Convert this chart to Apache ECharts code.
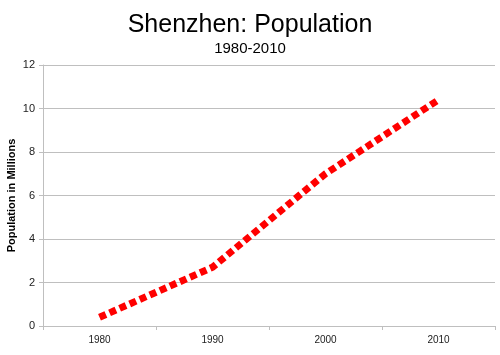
<!DOCTYPE html>
<html>
<head>
<meta charset="utf-8">
<script src="https://cdn.jsdelivr.net/npm/echarts@6/dist/echarts.min.js"></script>
<style>html,body{margin:0;padding:0;background:#fff}#c{width:500px;height:355px}</style>
</head>
<body>
<div id="c"></div>
<script>
var years = ['1980', '1990', '2000', '2010'];
var population = [0.4, 2.7, 7.0, 10.4];
var yTicks = {min: 0, max: 12, interval: 2};

var chart = echarts.init(document.getElementById('c'), null, {renderer: 'canvas'});
chart.setOption({
  animation: false,
  backgroundColor: '#ffffff',
  title: {
    text: 'Shenzhen: Population',
    subtext: '1980-2010',
    left: 'center',
    top: 8,
    itemGap: 3,
    textStyle: {fontFamily: 'Liberation Sans, Arial, sans-serif', fontSize: 25, fontWeight: 'normal', color: '#000'},
    subtextStyle: {fontFamily: 'Liberation Sans, Arial, sans-serif', fontSize: 15, color: '#000'}
  },
  grid: {left: 43, right: 5, top: 65, bottom: 29, outerBoundsMode: 'none', containLabel: false},
  xAxis: {
    type: 'category',
    data: years,
    boundaryGap: true,
    axisLine: {lineStyle: {color: '#bfbfbf', width: 1}},
    axisTick: {show: true, length: 4, lineStyle: {color: '#bfbfbf'}},
    axisLabel: {fontFamily: 'Liberation Sans, Arial, sans-serif', fontSize: 10, color: '#222', margin: 9}
  },
  yAxis: {
    type: 'value',
    min: yTicks.min,
    max: yTicks.max,
    interval: yTicks.interval,
    name: 'Population in Millions',
    nameLocation: 'middle',
    nameGap: 26,
    nameMoveOverlap: false,
    nameTextStyle: {fontFamily: 'Liberation Sans, Arial, sans-serif', fontSize: 11, fontWeight: 'bold', color: '#000'},
    axisLine: {show: true, lineStyle: {color: '#bfbfbf', width: 1}},
    axisTick: {show: true, length: 4, lineStyle: {color: '#bfbfbf'}},
    axisLabel: {fontFamily: 'Liberation Sans, Arial, sans-serif', fontSize: 11, color: '#222', margin: 8},
    splitLine: {show: true, lineStyle: {color: '#bfbfbf', width: 1}}
  },
  series: [{
    type: 'line',
    data: population,
    symbol: 'none',
    lineStyle: {color: '#ff0000', width: 7, type: [7, 4], cap: 'butt'}
  }]
});
</script>
</body>
</html>
